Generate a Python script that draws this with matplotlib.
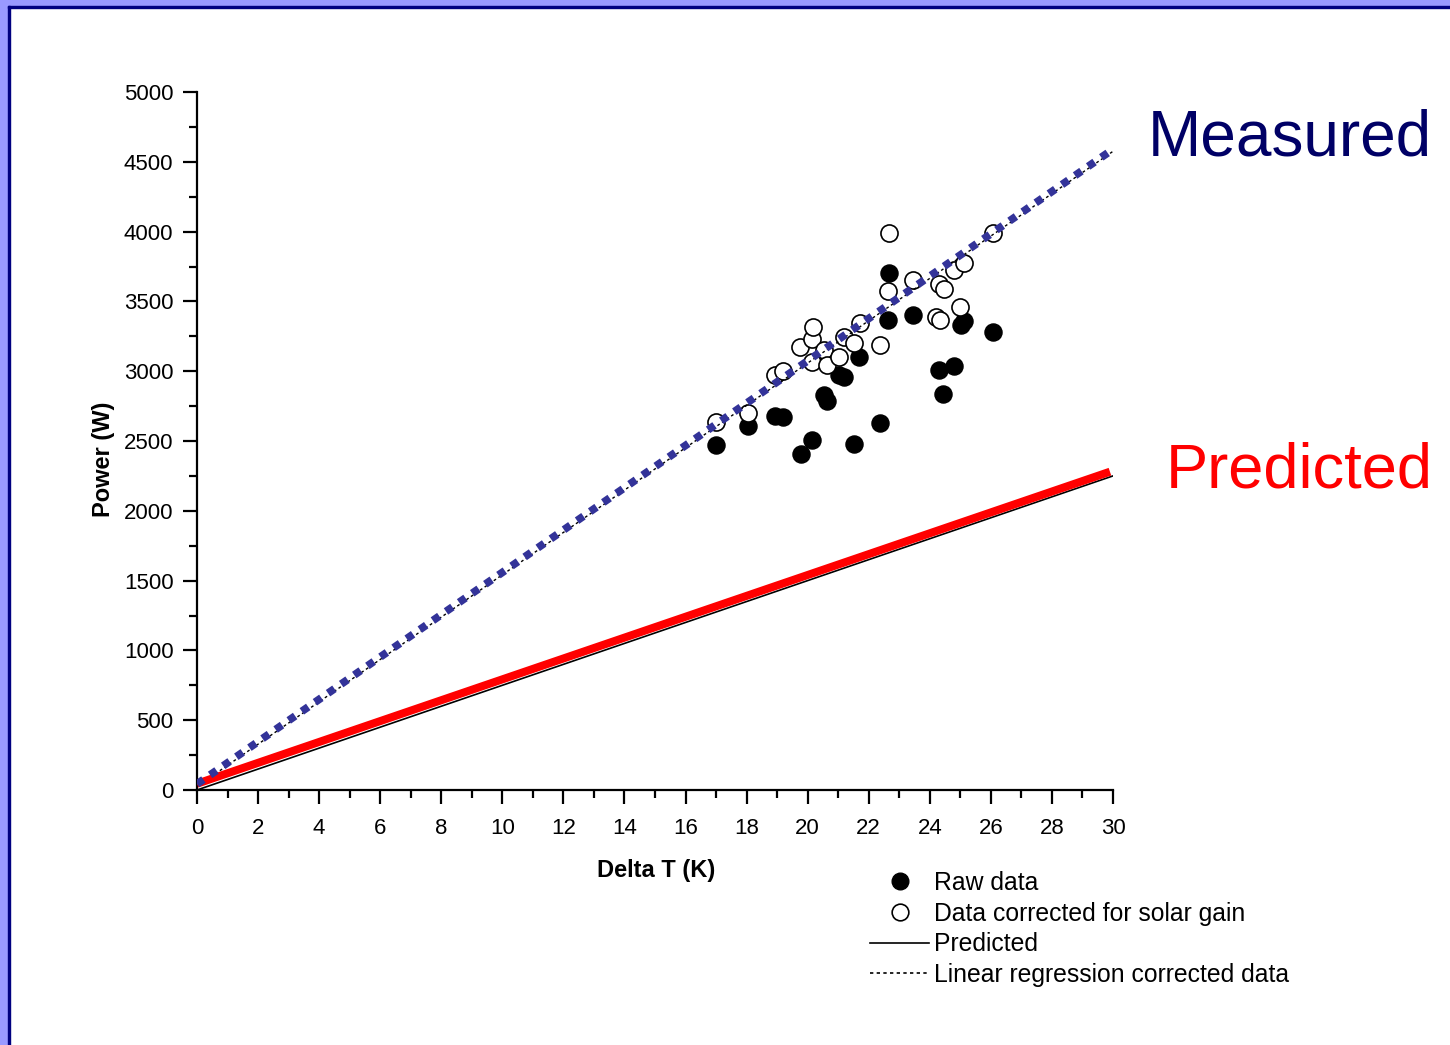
import matplotlib
matplotlib.use('Agg')
from matplotlib import pyplot as plt
from matplotlib.lines import Line2D
from matplotlib.patches import Rectangle
import numpy as np

plt.rcParams['font.family'] = ['Liberation Sans', 'DejaVu Sans']

# raw data (filled circles)
raw_dt = [17.0, 18.06, 18.93, 19.19, 19.77, 20.14, 20.54, 20.62, 21.04, 21.19,
          21.53, 21.68, 22.37, 22.63, 22.68, 23.46, 24.31, 24.43, 24.80, 25.02,
          25.12, 26.08]
raw_p = [2470, 2605, 2680, 2675, 2410, 2510, 2830, 2785, 2970, 2960,
         2480, 3100, 2630, 3370, 3700, 3405, 3010, 2840, 3040, 3330,
         3360, 3280]

# corrected for solar gain (open circles)
cor_dt = [17.0, 18.06, 18.93, 19.18, 19.75, 20.13, 20.19, 20.14, 20.54, 20.62,
          21.03, 21.18, 21.53, 21.70, 22.37, 22.62, 22.67, 23.46, 24.30, 24.45,
          24.20, 24.32, 24.80, 25.12, 25.00, 26.08]
cor_p = [2636, 2703, 2975, 3004, 3176, 3228, 3314, 3068, 3152, 3042,
         3104, 3247, 3199, 3343, 3188, 3577, 3992, 3653, 3625, 3591,
         3385, 3367, 3725, 3773, 3457, 3988]

# lines
pred_x = [0, 30]
pred_y = [0, 2250]
pred_thick_x = [0, 29.9]
pred_thick_y = [45, 2280]
reg_x = [0, 30]
reg_y = [25, 4575]
meas_x = [0, 30]
meas_y = [43, 4590]

fig = plt.figure(figsize=(14.5, 10.45), dpi=100)
ax = fig.add_axes([197 / 1450, 1 - 790 / 1045, (1113 - 197) / 1450, (790 - 92) / 1045])

ax.scatter(raw_dt, raw_p, s=12.3**2, c='black', edgecolors='black', linewidths=1, zorder=2)
ax.scatter(cor_dt, cor_p, s=12.3**2, c='white', edgecolors='black', linewidths=1.2, zorder=3)

ax.plot(pred_x, pred_y, color='black', lw=1.2, zorder=4)
ax.plot(pred_thick_x, pred_thick_y, color='#ff0000', lw=5.8, solid_capstyle='butt', zorder=5)
ax.plot(reg_x, reg_y, color='black', lw=1.0, dashes=(2, 2), zorder=4)
ax.plot(meas_x, meas_y, color='#333399', lw=5.6, dashes=(1.0, 1.05), dash_capstyle='butt', zorder=6)

ax.set_xlim(0, 30)
ax.set_ylim(0, 5000)
ax.set_xticks(np.arange(0, 31, 2))
ax.set_xticks(np.arange(0, 31, 1), minor=True)
ax.set_yticks(np.arange(0, 5001, 500))
ax.set_yticks(np.arange(0, 5001, 250), minor=True)

for s in ['top', 'right']:
    ax.spines[s].set_visible(False)
for s in ['left', 'bottom']:
    ax.spines[s].set_linewidth(1.6)

ax.tick_params(which='major', direction='out', length=10, width=1.6, labelsize=16)
ax.tick_params(axis='x', which='major', pad=10)
ax.tick_params(axis='y', which='major', pad=7)
ax.tick_params(which='minor', direction='out', length=5.5, width=1.6)

ax.set_xlabel('Delta T (K)', fontsize=17, fontweight='bold')
ax.set_ylabel('Power (W)', fontsize=17, fontweight='bold')
ax.xaxis.set_label_coords((656 - 197) / 916, (790 - 870) / 698)
ax.yaxis.set_label_coords((103 - 197) / 916, (790 - 459) / 698)
ax.xaxis.label.set_va('center')
ax.yaxis.label.set_va('center')

fig.text(1432 / 1450, 1 - 155 / 1045, 'Measured', color='#000066', fontsize=46,
         ha='right', va='baseline')
fig.text(1433 / 1450, 1 - 488 / 1045, 'Predicted', color='#ff0000', fontsize=45.5,
         ha='right', va='baseline')

handles = [
    Line2D([], [], marker='o', ls='none', markersize=12, markerfacecolor='black', markeredgecolor='black'),
    Line2D([], [], marker='o', ls='none', markersize=12, markerfacecolor='white', markeredgecolor='black', markeredgewidth=1.2),
    Line2D([], [], color='black', lw=1.2),
    Line2D([], [], color='black', lw=1.2, dashes=(2, 2)),
]
labels = ['Raw data', 'Data corrected for solar gain', 'Predicted', 'Linear regression corrected data']
fig.legend(handles, labels, loc='upper left', bbox_to_anchor=(870 / 1450, 1 - 871 / 1045),
           frameon=False, fontsize=17.8, handlelength=2.4, handletextpad=0.17,
           labelspacing=0.27, borderpad=0, borderaxespad=0)

# slide frame
fig.patches.append(Rectangle((0, 0), 8 / 1450, 1, transform=fig.transFigure, color='#9999ff', zorder=0))
fig.patches.append(Rectangle((0, 1 - 6 / 1045), 1, 6 / 1045, transform=fig.transFigure, color='#9999ff', zorder=0))
fig.patches.append(Rectangle((8 / 1450, 0), 2 / 1450, 1 - 6 / 1045, transform=fig.transFigure, color='#000080', zorder=0))
fig.patches.append(Rectangle((8 / 1450, 1 - 8 / 1045), 1, 2 / 1045, transform=fig.transFigure, color='#000080', zorder=0))

fig.savefig('out.png', dpi=100)
plt.close(fig)
